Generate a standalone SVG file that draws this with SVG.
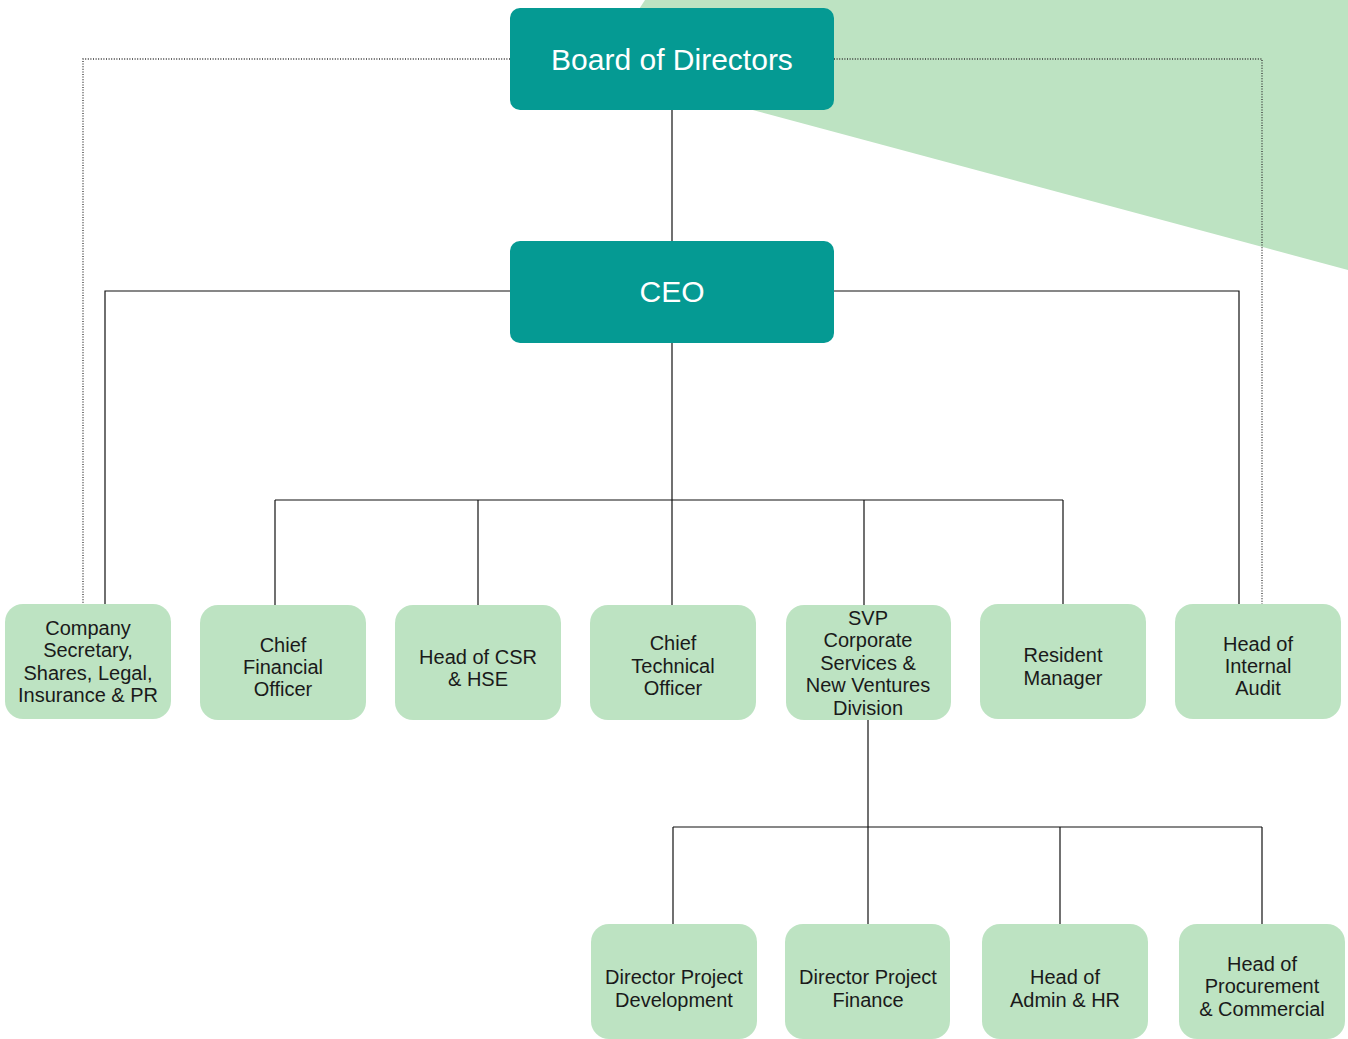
<svg xmlns="http://www.w3.org/2000/svg" width="1348" height="1039" viewBox="0 0 1348 1039">
<style>
.top{fill:#059a93}
.sub{fill:#bde3c2}
.tt{font-family:"Liberation Sans",Arial,sans-serif;font-size:30px;fill:#ffffff;text-anchor:middle}
.st{font-family:"Liberation Sans",Arial,sans-serif;font-size:20px;fill:#1a1a1a;text-anchor:middle}
.ln{stroke:#111;stroke-width:1.2;fill:none}
.dt{stroke:#333;stroke-width:1.3;stroke-dasharray:1 1.6;fill:none}
</style>
<rect width="1348" height="1039" fill="#ffffff"/>
<polygon points="645,0 1348,0 1348,270 600,69" fill="#bde3c2"/>
<g id="connectors">
<polyline class="dt" points="510,59 83,59 83,604"/>
<polyline class="dt" points="834,59 1262,59 1262,605"/>
<line class="ln" x1="672" y1="110" x2="672" y2="241"/>
<polyline class="ln" points="510,291 105,291 105,604"/>
<polyline class="ln" points="834,291 1239,291 1239,604"/>
<line class="ln" x1="672" y1="343" x2="672" y2="605"/>
<line class="ln" x1="275" y1="500" x2="1063" y2="500"/>
<line class="ln" x1="275" y1="500" x2="275" y2="605"/>
<line class="ln" x1="478" y1="500" x2="478" y2="605"/>
<line class="ln" x1="864" y1="500" x2="864" y2="605"/>
<line class="ln" x1="1063" y1="500" x2="1063" y2="604"/>
<line class="ln" x1="868" y1="720" x2="868" y2="924"/>
<line class="ln" x1="673" y1="827" x2="1262" y2="827"/>
<line class="ln" x1="673" y1="827" x2="673" y2="924"/>
<line class="ln" x1="1060" y1="827" x2="1060" y2="924"/>
<line class="ln" x1="1262" y1="827" x2="1262" y2="924"/>
</g>
<g id="board"><rect class="top" x="510" y="8" width="324" height="102" rx="10"/><text class="tt" x="672" y="70">Board of Directors</text></g>
<g id="ceo"><rect class="top" x="510" y="241" width="324" height="102" rx="10"/><text class="tt" x="672" y="302">CEO</text></g>
<g id="company-secretary"><rect class="sub" x="5" y="604" width="166" height="115" rx="18"/>
<text class="st" x="88"><tspan x="88" y="635">Company</tspan><tspan x="88" y="657">Secretary,</tspan><tspan x="88" y="680">Shares, Legal,</tspan><tspan x="88" y="702">Insurance &amp; PR</tspan></text></g>
<g id="cfo"><rect class="sub" x="200" y="605" width="166" height="115" rx="18"/>
<text class="st"><tspan x="283" y="652">Chief</tspan><tspan x="283" y="674">Financial</tspan><tspan x="283" y="696">Officer</tspan></text></g>
<g id="csr"><rect class="sub" x="395" y="605" width="166" height="115" rx="18"/>
<text class="st"><tspan x="478" y="664">Head of CSR</tspan><tspan x="478" y="686">&amp; HSE</tspan></text></g>
<g id="cto"><rect class="sub" x="590" y="605" width="166" height="115" rx="18"/>
<text class="st"><tspan x="673" y="650">Chief</tspan><tspan x="673" y="673">Technical</tspan><tspan x="673" y="695">Officer</tspan></text></g>
<g id="svp"><rect class="sub" x="786" y="605" width="165" height="115" rx="18"/>
<text class="st"><tspan x="868" y="625">SVP</tspan><tspan x="868" y="647">Corporate</tspan><tspan x="868" y="670">Services &amp;</tspan><tspan x="868" y="692">New Ventures</tspan><tspan x="868" y="715">Division</tspan></text></g>
<g id="resident"><rect class="sub" x="980" y="604" width="166" height="115" rx="18"/>
<text class="st"><tspan x="1063" y="662">Resident</tspan><tspan x="1063" y="685">Manager</tspan></text></g>
<g id="audit"><rect class="sub" x="1175" y="604" width="166" height="115" rx="18"/>
<text class="st"><tspan x="1258" y="651">Head of</tspan><tspan x="1258" y="673">Internal</tspan><tspan x="1258" y="695">Audit</tspan></text></g>
<g id="dpd"><rect class="sub" x="591" y="924" width="166" height="115" rx="18"/>
<text class="st"><tspan x="674" y="984">Director Project</tspan><tspan x="674" y="1007">Development</tspan></text></g>
<g id="dpf"><rect class="sub" x="785" y="924" width="165" height="115" rx="18"/>
<text class="st"><tspan x="868" y="984">Director Project</tspan><tspan x="868" y="1007">Finance</tspan></text></g>
<g id="admin"><rect class="sub" x="982" y="924" width="166" height="115" rx="18"/>
<text class="st"><tspan x="1065" y="984">Head of</tspan><tspan x="1065" y="1007">Admin &amp; HR</tspan></text></g>
<g id="procurement"><rect class="sub" x="1179" y="924" width="166" height="115" rx="18"/>
<text class="st"><tspan x="1262" y="971">Head of</tspan><tspan x="1262" y="993">Procurement</tspan><tspan x="1262" y="1016">&amp; Commercial</tspan></text></g>
</svg>
